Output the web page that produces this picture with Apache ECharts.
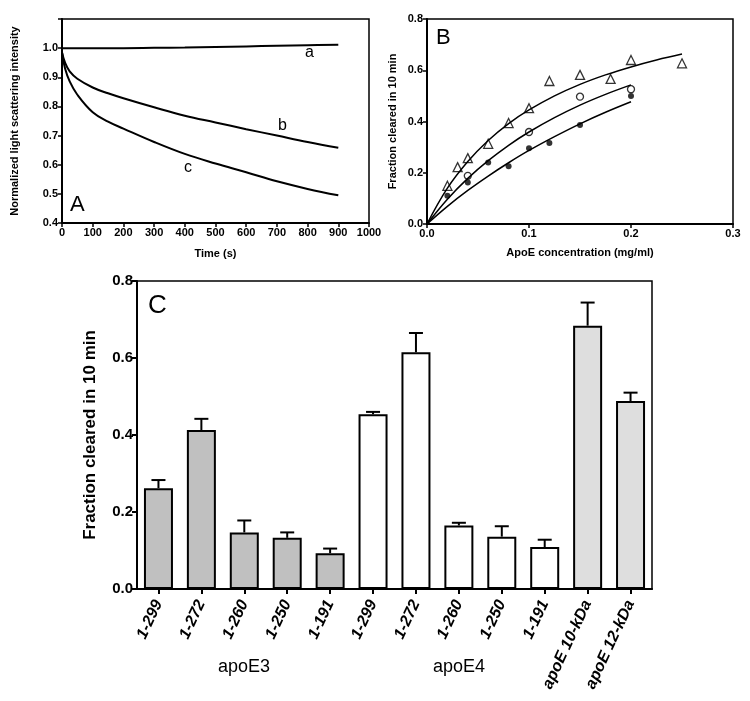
<!DOCTYPE html>
<html>
<head>
<meta charset="utf-8">
<script src="https://cdn.jsdelivr.net/npm/echarts@6/dist/echarts.min.js"></script>
<style>
  html, body { margin: 0; padding: 0; background: #fff; }
  #chart { width: 750px; height: 701px; }
</style>
</head>
<body>
<div id="chart"></div>
<script>
// panel A: light scattering time courses
var timeA = [0, 10, 25, 50, 100, 150, 200, 300, 400, 500, 600, 700, 800, 900];
var curveA = [1.0, 1.0, 1.0, 1.0, 1.0, 1.0, 1.0, 1.001, 1.002, 1.004, 1.006, 1.008, 1.010, 1.012];
var curveB = [0.985, 0.95, 0.92, 0.895, 0.865, 0.845, 0.828, 0.797, 0.768, 0.745, 0.722, 0.70, 0.678, 0.658];
var curveC = [0.985, 0.93, 0.886, 0.84, 0.78, 0.748, 0.724, 0.678, 0.637, 0.604, 0.574, 0.543, 0.517, 0.495];

// panel B: measured points
var triX = [0.02, 0.03, 0.04, 0.06, 0.08, 0.10, 0.12, 0.15, 0.18, 0.20, 0.25];
var triY = [0.149, 0.222, 0.257, 0.313, 0.394, 0.452, 0.558, 0.582, 0.566, 0.64, 0.627];
var openX = [0.04, 0.10, 0.15, 0.20];
var openY = [0.188, 0.359, 0.497, 0.526];
var fillX = [0.02, 0.04, 0.06, 0.08, 0.10, 0.12, 0.15, 0.20];
var fillY = [0.11, 0.162, 0.24, 0.225, 0.296, 0.316, 0.386, 0.50];

// panel B: fitted curves
var fitTriX = [0, 0.02, 0.04, 0.06, 0.08, 0.10, 0.125, 0.15, 0.175, 0.20, 0.225, 0.25];
var fitTriY = [0, 0.140, 0.244, 0.326, 0.392, 0.445, 0.50, 0.545, 0.582, 0.613, 0.640, 0.663];
var fitOpenX = [0, 0.02, 0.04, 0.06, 0.08, 0.10, 0.125, 0.15, 0.175, 0.20];
var fitOpenY = [0, 0.097, 0.178, 0.247, 0.307, 0.359, 0.415, 0.464, 0.506, 0.543];
var fitFillX = [0, 0.02, 0.04, 0.06, 0.08, 0.10, 0.125, 0.15, 0.175, 0.20];
var fitFillY = [0, 0.069, 0.131, 0.187, 0.239, 0.287, 0.341, 0.391, 0.436, 0.477];

// panel C: bars
var barCats = ['1-299', '1-272', '1-260', '1-250', '1-191', '1-299', '1-272', '1-260', '1-250', '1-191', 'apoE 10-kDa', 'apoE 12-kDa'];
var barGroup = ['E3', 'E3', 'E3', 'E3', 'E3', 'E4', 'E4', 'E4', 'E4', 'E4', 'frag', 'frag'];
var barMeans = [0.262, 0.413, 0.147, 0.133, 0.093, 0.454, 0.615, 0.165, 0.136, 0.109, 0.684, 0.488];
var barErrTop = [0.283, 0.442, 0.178, 0.147, 0.105, 0.460, 0.665, 0.172, 0.163, 0.128, 0.744, 0.510];

var groupColor = { E3: '#c0c0c0', E4: '#ffffff', frag: '#dedede' };
var FONT = 'Liberation Sans';

function zip(xs, ys) {
    return xs.map(function (x, i) { return [x, ys[i]]; });
}

function axisBase(size) {
    return {
        axisLine: { show: true, lineStyle: { color: '#000', width: 2 } },
        axisTick: { show: true, length: 4, lineStyle: { color: '#000', width: 1.5 } },
        axisLabel: { color: '#000', fontFamily: FONT, fontWeight: 'bold', fontSize: size, margin: 4 },
        splitLine: { show: false },
        nameTextStyle: { color: '#000', fontFamily: FONT, fontWeight: 'bold', fontSize: size }
    };
}

function ext(a, b) {
    for (var k in b) a[k] = b[k];
    return a;
}

var barData = barMeans.map(function (v, i) {
    return { value: v, itemStyle: { color: groupColor[barGroup[i]] } };
});
var errData = barMeans.map(function (v, i) { return [i, v, barErrTop[i]]; });

function renderErr(params, api) {
    var lo = api.coord([api.value(0), api.value(1)]);
    var hi = api.coord([api.value(0), api.value(2)]);
    var cap = 7;
    return {
        type: 'group',
        children: [
            { type: 'line', shape: { x1: lo[0], y1: lo[1], x2: hi[0], y2: hi[1] }, style: { stroke: '#000', lineWidth: 2 } },
            { type: 'line', shape: { x1: hi[0] - cap, y1: hi[1], x2: hi[0] + cap, y2: hi[1] }, style: { stroke: '#000', lineWidth: 2 } }
        ]
    };
}

function curve(xi, data, w) {
    return { type: 'line', xAxisIndex: xi, yAxisIndex: xi, data: data, smooth: 0.4, showSymbol: false,
        lineStyle: { color: '#000', width: w } };
}

var option = {
    animation: false,
    backgroundColor: '#fff',
    grid: [
        { left: 62, right: 381, top: 19, bottom: 478, show: true, borderColor: '#000', borderWidth: 1.5 },
        { left: 427, right: 17, top: 19, bottom: 477, show: true, borderColor: '#000', borderWidth: 1.5 },
        { left: 137, right: 98, top: 281, bottom: 112, show: true, borderColor: '#000', borderWidth: 1.5 }
    ],
    xAxis: [
        ext(axisBase(11), {
            type: 'value', gridIndex: 0, min: 0, max: 1000, interval: 100,
            name: 'Time (s)', nameLocation: 'middle', nameGap: 25,
            axisLabel: { color: '#000', fontFamily: FONT, fontWeight: 'bold', fontSize: 11, margin: 4,
                formatter: function (v) { return String(v); } }
        }),
        ext(axisBase(11), {
            type: 'value', gridIndex: 1, min: 0, max: 0.3, interval: 0.1,
            name: 'ApoE concentration (mg/ml)', nameLocation: 'middle', nameGap: 23,
            axisLabel: { color: '#000', fontFamily: FONT, fontWeight: 'bold', fontSize: 11, margin: 4,
                formatter: function (v) { return v.toFixed(1); } }
        }),
        ext(axisBase(15), {
            type: 'category', gridIndex: 2, data: barCats,
            axisTick: { show: true, alignWithLabel: true, length: 5, lineStyle: { color: '#000', width: 2 } },
            axisLabel: { color: '#000', fontFamily: FONT, fontWeight: 'bold', fontStyle: 'italic', fontSize: 16,
                rotate: 65, margin: 12, interval: 0 }
        })
    ],
    yAxis: [
        ext(axisBase(11), {
            type: 'value', gridIndex: 0, min: 0.4, max: 1.1, interval: 0.1,
            name: 'Normalized light scattering intensity', nameLocation: 'middle', nameGap: 42,
            axisLabel: { color: '#000', fontFamily: FONT, fontWeight: 'bold', fontSize: 11, margin: 4,
                formatter: function (v) { return v > 1.05 ? '' : v.toFixed(1); } }
        }),
        ext(axisBase(11), {
            type: 'value', gridIndex: 1, min: 0, max: 0.8, interval: 0.2,
            name: 'Fraction cleared in 10 min', nameLocation: 'middle', nameGap: 29,
            axisLabel: { color: '#000', fontFamily: FONT, fontWeight: 'bold', fontSize: 11, margin: 4,
                formatter: function (v) { return v.toFixed(1); } }
        }),
        ext(axisBase(15), {
            type: 'value', gridIndex: 2, min: 0, max: 0.8, interval: 0.2,
            name: 'Fraction cleared in 10 min', nameLocation: 'middle', nameGap: 38,
            nameTextStyle: { color: '#000', fontFamily: FONT, fontWeight: 'bold', fontSize: 17 },
            axisTick: { show: true, length: 5, lineStyle: { color: '#000', width: 2 } },
            axisLabel: { color: '#000', fontFamily: FONT, fontWeight: 'bold', fontSize: 15, margin: 4,
                formatter: function (v) { return v.toFixed(1); } }
        })
    ],
    series: [
        curve(0, zip(timeA, curveA), 2),
        curve(0, zip(timeA, curveB), 2),
        curve(0, zip(timeA, curveC), 2),

        curve(1, zip(fitTriX, fitTriY), 1.5),
        curve(1, zip(fitOpenX, fitOpenY), 1.5),
        curve(1, zip(fitFillX, fitFillY), 1.5),
        { type: 'scatter', xAxisIndex: 1, yAxisIndex: 1, data: zip(triX, triY), symbol: 'triangle', symbolSize: 9,
            itemStyle: { color: '#fff', borderColor: '#000', borderWidth: 1.3 } },
        { type: 'scatter', xAxisIndex: 1, yAxisIndex: 1, data: zip(openX, openY), symbol: 'circle', symbolSize: 7,
            itemStyle: { color: '#fff', borderColor: '#000', borderWidth: 1.3 } },
        { type: 'scatter', xAxisIndex: 1, yAxisIndex: 1, data: zip(fillX, fillY), symbol: 'circle', symbolSize: 6,
            itemStyle: { color: '#000' } },

        { type: 'bar', xAxisIndex: 2, yAxisIndex: 2, data: barData, barWidth: 29,
            itemStyle: { borderColor: '#000', borderWidth: 2 } },
        { type: 'custom', xAxisIndex: 2, yAxisIndex: 2, data: errData, renderItem: renderErr, z: 3 }
    ],
    graphic: [
        { type: 'text', left: 70, top: 194, style: { text: 'A', font: '22px "Liberation Sans"', fill: '#000' } },
        { type: 'text', left: 436, top: 27, style: { text: 'B', font: '22px "Liberation Sans"', fill: '#000' } },
        { type: 'text', left: 148, top: 293, style: { text: 'C', font: '26px "Liberation Sans"', fill: '#000' } },
        { type: 'text', left: 305, top: 45, style: { text: 'a', font: '16px "Liberation Sans"', fill: '#000' } },
        { type: 'text', left: 278, top: 118, style: { text: 'b', font: '16px "Liberation Sans"', fill: '#000' } },
        { type: 'text', left: 184, top: 160, style: { text: 'c', font: '16px "Liberation Sans"', fill: '#000' } },
        { type: 'text', left: 218, top: 658, style: { text: 'apoE3', font: '18px "Liberation Sans"', fill: '#000' } },
        { type: 'text', left: 433, top: 658, style: { text: 'apoE4', font: '18px "Liberation Sans"', fill: '#000' } }
    ]
};

var chart = echarts.init(document.getElementById('chart'));
chart.setOption(option);
</script>
</body>
</html>
